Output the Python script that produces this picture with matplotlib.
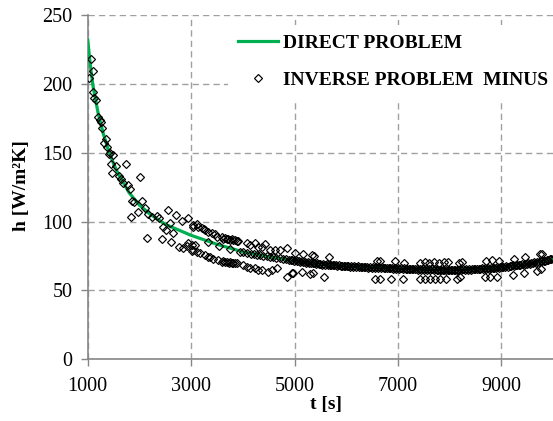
#!/usr/bin/env python3
# -*- coding: utf-8 -*-
"""
Heat transfer coefficient h(t): direct problem curve vs inverse problem points.
"""

import matplotlib
matplotlib.use('Agg')
import matplotlib.pyplot as plt
import numpy as np

# direct problem (green curve)
direct_t = [1000, 1050, 1100, 1200, 1300, 1400, 1500, 1600, 1800, 2000,
            2200, 2500, 3000, 3500, 4000, 4500, 5000, 5500, 6000, 6500,
            7000, 7500, 8000, 8500, 9000, 9500, 10000]
direct_h = [232, 214, 199, 179, 164, 152, 142, 134, 121, 112,
            105.5, 98, 90, 83.5, 78, 74.5, 71.8, 69.2, 67.8, 66.9,
            66.1, 65.4, 65.0, 65.5, 66.9, 69.0, 72.9]

# inverse problem: steep early decay
early_t = [1025, 1064, 1097, 1108, 1128, 1161, 1205, 1238, 1257, 1283,
           1316, 1348, 1380, 1412, 1432, 1451, 1465, 1496, 1548, 1612,
           1645, 1689, 1741, 1786, 1819, 1832, 1863, 1902, 1980, 2013,
           2045, 2109, 2142, 2173, 2239, 2336, 2380, 2433, 2464, 2516,
           2549, 2593, 2607, 2657, 2704, 2773, 2820, 2851, 2917, 2948,
           3013, 3033, 3077, 3110]
early_h = [204, 218, 209, 194, 190, 188, 176, 174, 172.5, 168,
           157, 160, 154, 149, 150, 142, 135, 148, 140, 133,
           131, 128, 142, 126.6, 123.5, 103, 115, 114.5, 107, 132,
           115, 110, 87.9, 105.5, 103, 104, 102.4, 87.1, 95.9, 93.9,
           108.4, 98.8, 85.4, 91.5, 104.8, 81.8, 100.6, 80.6, 82.5, 102.4,
           78.9, 96.3, 83, 98.3]

# inverse problem: upper branch
upper_t = [3044, 3141, 3207, 3252, 3271, 3335, 3400, 3464, 3497, 3594,
           3625, 3658, 3690, 3722, 3755, 3788, 3820, 3852, 3885, 3916,
           4078, 4142, 4239, 4303, 4369, 4433, 4529, 4626, 4723, 4853,
           5013, 5174, 5337, 5381, 5658]
upper_h = [97.5, 96.3, 95.1, 94.4, 93.9, 92.2, 91.5, 90.8, 89.0, 88.6,
           87.3, 88.0, 87.0, 87.6, 86.8, 87.1, 86.4, 86.6, 85.8, 85.6,
           84.2, 83.0, 84.2, 81.8, 81.8, 83.5, 79.4, 79.4, 79.4, 80.6,
           77.2, 76.2, 75.7, 75.0, 74.5]

# inverse problem: lower branch
lower_t = [2948, 3013, 3044, 3110, 3174, 3271, 3335, 3368, 3432, 3528,
           3594, 3625, 3660, 3691, 3725, 3755, 3788, 3820, 3852, 3885,
           4012, 4078, 4142, 4239, 4303, 4369, 4497, 4562, 4659, 4853,
           4949, 4980, 5143, 5304, 5356, 5561]
lower_h = [84.7, 83.0, 79.4, 78.1, 77.0, 75.7, 74.5, 74.1, 73.0, 72.1,
           70.9, 71.3, 70.4, 70.9, 70.0, 70.6, 69.7, 70.2, 69.7, 69.9,
           68.5, 67.2, 66.1, 66.1, 64.8, 64.8, 63.6, 64.8, 66.1, 60.0,
           62.5, 62.5, 63.6, 61.9, 62.9, 60.0]

# inverse problem: points lying on the curve
oncurve_t = [3335, 3548, 3760, 3950, 4010, 4080, 4150, 4210, 4270, 4340,
             4400, 4460, 4530, 4590, 4650, 4720, 4780, 4840]
oncurve_h = [84.8, 82.2, 80.0, 78.2, 77.8, 77.2, 76.8, 76.3, 75.9, 75.4,
             75.0, 74.7, 74.3, 74.0, 73.7, 73.3, 73.0, 72.7]

# inverse problem: dense band, one sample every 30 s from 4900 s
band_t0 = 4900
band_dt = 30
band_h = [72.4, 72.0, 72.3, 71.6, 71.9, 71.3, 71.5, 70.9, 71.2, 70.6,
          70.8, 70.2, 70.4, 69.9, 70.1, 69.6, 69.9, 69.3, 69.6, 69.1,
          69.4, 68.8, 69.1, 68.6, 68.9, 68.4, 68.7, 68.2, 68.5, 68.1,
          68.4, 67.9, 68.2, 67.7, 68.0, 67.6, 67.9, 67.4, 67.8, 67.3,
          67.7, 67.2, 67.5, 67.0, 67.4, 66.9, 67.3, 66.8, 67.2, 66.8,
          67.1, 66.6, 67.0, 66.5, 66.9, 66.5, 66.8, 66.4, 66.8, 66.3,
          66.7, 66.2, 66.6, 66.1, 66.5, 66.0, 66.4, 65.9, 66.3, 65.8,
          66.2, 65.7, 66.1, 65.6, 66.0, 65.5, 65.9, 65.4, 65.8, 65.3,
          65.7, 65.2, 65.6, 65.1, 65.5, 65.0, 65.4, 64.9, 65.3, 64.9,
          65.3, 64.8, 65.2, 64.8, 65.2, 64.7, 65.1, 64.7, 65.1, 64.7,
          65.1, 64.6, 65.1, 64.6, 65.0, 64.6, 65.1, 64.7, 65.1, 64.7,
          65.2, 64.8, 65.3, 64.9, 65.4, 65.0, 65.5, 65.1, 65.6, 65.2,
          65.7, 65.3, 65.8, 65.5, 66.0, 65.6, 66.1, 65.8, 66.3, 65.9,
          66.4, 66.1, 66.6, 66.3, 66.8, 66.5, 67.0, 66.8, 67.3, 67.0,
          67.5, 67.3, 67.8, 67.6, 68.1, 67.9, 68.4, 68.2, 68.7, 68.5,
          68.9, 68.8, 69.3, 69.1, 69.6, 69.5, 70.0, 69.8, 70.3, 70.2,
          70.7, 70.6, 71.2, 71.1, 71.7, 71.6, 72.2, 72.1, 72.7, 72.6,
          73.0]

# inverse problem: scattered points above and below the band
above_t = [6595, 6659, 6936, 7124, 7433, 7530, 7594, 7690, 7788, 7884,
           7962, 8175, 8240, 8711, 8821, 8949, 9240, 9466, 9743, 9790]
above_h = [71.4, 71.4, 71.4, 69.9, 70.1, 70.6, 70.1, 70.6, 70.1, 70.6,
           70.9, 70.1, 70.6, 71.4, 72.1, 71.4, 72.8, 74.2, 76.8, 76.6]
below_t = [6562, 6659, 6872, 7091, 7420, 7530, 7627, 7724, 7820, 7937,
           8144, 8208, 8692, 8789, 8918, 9220, 9433, 9700, 9770]
below_h = [58.3, 58.3, 58.3, 58.3, 58.3, 58.6, 58.3, 58.6, 58.3, 58.1,
           58.1, 59.5, 59.5, 59.5, 60.0, 61.4, 62.7, 63.8, 65.4]

x_ticks = [1000, 3000, 5000, 7000, 9000]
y_ticks = [0, 50, 100, 150, 200, 250]


def main():
    plt.rcParams['font.family'] = ['Liberation Serif', 'DejaVu Serif']
    band_t = band_t0 + band_dt * np.arange(len(band_h))
    inverse_t = np.concatenate([early_t, upper_t, lower_t, oncurve_t,
                                band_t, above_t, below_t])
    inverse_h = np.concatenate([early_h, upper_h, lower_h, oncurve_h,
                                band_h, above_h, below_h])

    figure = plt.figure(figsize=(5.53, 4.21), dpi=100)
    ax = figure.add_axes([0.1586, 0.1466, 0.8414, 0.8178])

    ax.plot(direct_t, direct_h, color='#00B050', linewidth=2.3,
            label='DIRECT PROBLEM', zorder=3)
    ax.plot(inverse_t, inverse_h, linestyle='none', marker='D',
            markersize=4.1, markerfacecolor='none', markeredgecolor='black',
            markeredgewidth=0.85, label='INVERSE PROBLEM  MINUS', zorder=4)

    ax.set_xlim(1000, 10000)
    ax.set_ylim(0, 250)
    ax.set_xticks(x_ticks)
    ax.set_yticks(y_ticks)
    ax.tick_params(labelsize=14.5, colors='#868686', labelcolor='black',
                   length=5, width=1)
    ax.tick_params(axis='x', pad=8)
    ax.tick_params(axis='y', pad=6)
    ax.grid(True, color='#A0A0A0', linestyle=(0, (4.5, 3)), linewidth=1)
    ax.set_axisbelow(True)
    for side in ('top', 'right'):
        ax.spines[side].set_visible(False)
    for side in ('left', 'bottom'):
        ax.spines[side].set_color('#868686')
        ax.spines[side].set_linewidth(1.2)

    ax.set_xlabel('t [s]', fontsize=14, fontweight='bold')
    ax.xaxis.set_label_coords(0.512, -0.106)
    ax.set_ylabel('h [W/m²K]', fontsize=14, fontweight='bold')
    ax.yaxis.set_label_coords(-0.124, 0.506)

    legend = ax.legend(loc='upper left', bbox_to_anchor=(0.3015, 0.972),
                       borderaxespad=0, borderpad=0.5, frameon=True,
                       fancybox=False, framealpha=1, edgecolor='none',
                       facecolor='white', handlelength=2.06,
                       handletextpad=0.25, labelspacing=1.0,
                       prop={'size': 14, 'weight': 'bold'})
    legend.set_zorder(5)

    figure.savefig('out.png', dpi=100)
    plt.close(figure)


if __name__ == '__main__':
    main()
